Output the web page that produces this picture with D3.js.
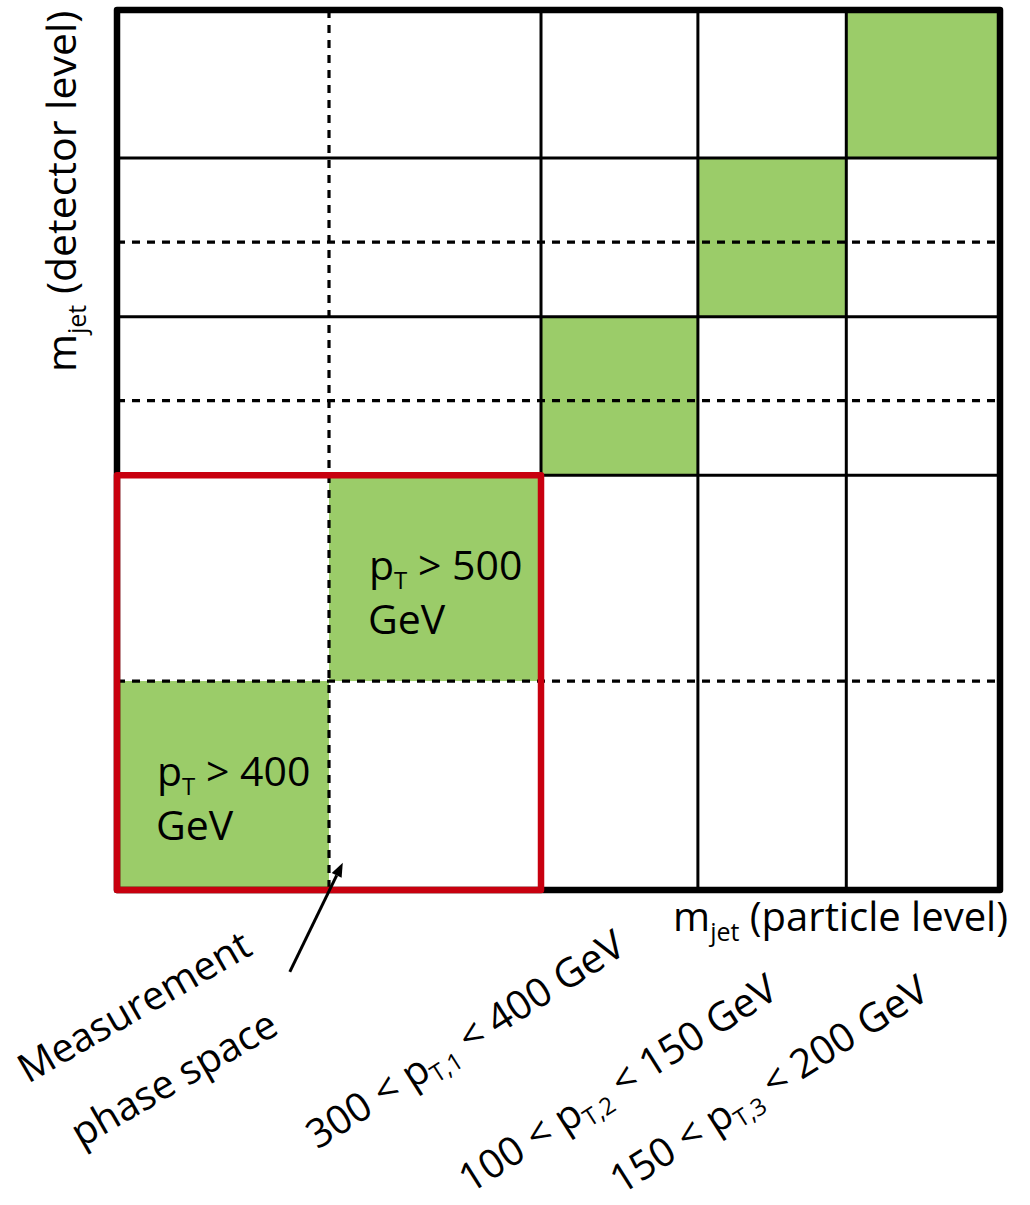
<!DOCTYPE html>
<html>
<head>
<meta charset="utf-8">
<script src="https://cdn.jsdelivr.net/npm/d3@7/dist/d3.min.js"></script>
<style>
  html, body { margin: 0; padding: 0; background: #fff; }
  svg { display: block; }
  text { font-family: "Open Sans", "Noto Sans", sans-serif; fill: #000; }
</style>
</head>
<body>
<svg id="chart" width="1030" height="1205"></svg>
<script>
// Bin edges on the particle-level (x) and detector-level (y) mass axes, in bin units
const xEdges = [0, 2, 4, 5.48, 6.88, 8.33];
const yEdges = [0, 1.99, 3.95, 5.46, 6.97, 8.38];
// Finer detector-level splits and the pT split inside the measurement region
const xDashed = [2];
const yDashed = [1.99, 4.66, 6.17];
const xSolid = [4, 5.48, 6.88];
const ySolid = [3.95, 5.46, 6.97];
// Diagonal (migration-free) cells: column index == row index
const diagCells = [0, 1, 2, 3, 4];
// Measurement phase space: first two particle-level and detector-level bins
const measX = [0, 4];
const measY = [0, 3.95];
// pT selections written in the measured cells
const cellCut = ["400", "500"];
// pT ranges of the remaining particle-level bins
const ptLow = ["300", "100", "150"];
const ptHigh = ["400", "150", "200"];
const ptIdx = ["1", "2", "3"];
const ptCols = [2, 3, 4];
// Annotation arrow (bin units)
const arrowFrom = [1.63, -0.78];
const arrowTo = [2.13, 0.26];

const svg = d3.select("#chart");
const xMax = xEdges[xEdges.length - 1], yMax = yEdges[yEdges.length - 1];
const x = d3.scaleLinear().domain([0, xMax]).range([117, 1000]);
const y = d3.scaleLinear().domain([0, yMax]).range([890, 10]);
const green = "#9bcc69";
const red = "#c8000f";

// diagonal cells
svg.append("g").selectAll("rect").data(diagCells).join("rect")
  .attr("x", i => x(xEdges[i]))
  .attr("y", i => y(yEdges[i + 1]))
  .attr("width", i => x(xEdges[i + 1]) - x(xEdges[i]))
  .attr("height", i => y(yEdges[i]) - y(yEdges[i + 1]))
  .attr("fill", green);

// solid bin boundaries
const grid = svg.append("g").attr("stroke", "#000").attr("stroke-width", 3);
grid.selectAll("line.vs").data(xSolid).join("line").attr("class", "vs")
  .attr("x1", d => x(d)).attr("x2", d => x(d)).attr("y1", y(yMax)).attr("y2", y(0));
grid.selectAll("line.hs").data(ySolid).join("line").attr("class", "hs")
  .attr("x1", x(0)).attr("x2", x(xMax)).attr("y1", d => y(d)).attr("y2", d => y(d));

// dashed sub-bin boundaries
const dgrid = svg.append("g").attr("stroke", "#000").attr("stroke-width", 3.2)
  .attr("stroke-dasharray", "8,7");
dgrid.selectAll("line.vd").data(xDashed).join("line").attr("class", "vd")
  .attr("x1", d => x(d)).attr("x2", d => x(d)).attr("y1", y(yMax)).attr("y2", y(0));
dgrid.selectAll("line.hd").data(yDashed).join("line").attr("class", "hd")
  .attr("x1", x(0)).attr("x2", x(xMax)).attr("y1", d => y(d)).attr("y2", d => y(d));

// outer frame
svg.append("rect")
  .attr("x", x(0)).attr("y", y(yMax))
  .attr("width", x(xMax) - x(0)).attr("height", y(0) - y(yMax))
  .attr("fill", "none").attr("stroke", "#000").attr("stroke-width", 6.5)
  .attr("stroke-linejoin", "round");

// measurement phase space outline
svg.append("rect")
  .attr("x", x(measX[0])).attr("y", y(measY[1]))
  .attr("width", x(measX[1]) - x(measX[0])).attr("height", y(measY[0]) - y(measY[1]))
  .attr("fill", "none").attr("stroke", red).attr("stroke-width", 6.5)
  .attr("stroke-linejoin", "round");

// text with subscripts: parts = [[string, isSub], ...]
function rich(sel, parts, size, subSize, subDy) {
  let shifted = false;
  parts.forEach(([s, sub]) => {
    let dy = 0;
    if (sub && !shifted) { dy = subDy; shifted = true; }
    else if (!sub && shifted) { dy = -subDy; shifted = false; }
    sel.append("tspan")
      .attr("font-size", sub ? subSize : size)
      .attr("dy", dy)
      .text(s);
  });
  return sel;
}

// pT cut labels inside the measured diagonal cells (two lines in one text)
const cellFont = 41;
cellCut.forEach((v, i) => {
  const x0 = x(xEdges[i]) + 40;
  const t = svg.append("text")
    .attr("x", x0)
    .attr("y", y(yEdges[i + 1]) + 105)
    .attr("font-size", cellFont);
  rich(t, [["p", false], ["T", true], [" > " + v, false]], cellFont, 24, 9);
  t.append("tspan").attr("x", x0 - 1).attr("dy", 54).text("GeV");
});

// axis titles
const xt = svg.append("text")
  .attr("x", x(xMax) + 8).attr("y", y(0) + 41)
  .attr("text-anchor", "end").attr("font-size", 40);
rich(xt, [["m", false], ["jet", true], [" (particle level)", false]], 40, 25, 10);

const yt = svg.append("text")
  .attr("transform", `translate(${x(0) - 41},${y(0) - 518}) rotate(-90)`)
  .attr("font-size", 41);
rich(yt, [["m", false], ["jet", true], [" (detector level)", false]], 41, 25, 10);

// pT range labels below the remaining particle-level bins
const angle = -32.5;
const rotFont = 40;
const labelBase = [1150, 1194, 1195];
ptCols.forEach((c, i) => {
  const cx = (x(xEdges[c]) + x(xEdges[c + 1])) / 2 - 302;
  const t = svg.append("text")
    .attr("transform", `translate(${cx},${labelBase[i]}) rotate(${angle})`)
    .attr("font-size", rotFont);
  rich(t, [[ptLow[i] + " < p", false], ["T," + ptIdx[i], true], [" < " + ptHigh[i] + " GeV", false]], rotFont, 24, 8);
});

// measurement phase space note
const note = svg.append("text")
  .attr("transform", `translate(28,1084) rotate(-30)`)
  .attr("font-size", rotFont);
note.append("tspan").attr("x", 0).attr("y", 0).text("Measurement");
note.append("tspan").attr("x", 14).attr("y", 82).text("phase space");

// arrow to the measurement region
const ax1 = x(arrowFrom[0]), ay1 = y(arrowFrom[1]);
const ax2 = x(arrowTo[0]), ay2 = y(arrowTo[1]);
const ang = Math.atan2(ay2 - ay1, ax2 - ax1);
const headL = 14, headW = 5.5;
const bx = ax2 - headL * Math.cos(ang), by = ay2 - headL * Math.sin(ang);
svg.append("line")
  .attr("x1", ax1).attr("y1", ay1).attr("x2", bx).attr("y2", by)
  .attr("stroke", "#000").attr("stroke-width", 3);
svg.append("path")
  .attr("d", d3.line()([
    [ax2, ay2],
    [bx + headW * Math.sin(ang), by - headW * Math.cos(ang)],
    [bx - headW * Math.sin(ang), by + headW * Math.cos(ang)]
  ]) + "Z")
  .attr("fill", "#000");
</script>
</body>
</html>
